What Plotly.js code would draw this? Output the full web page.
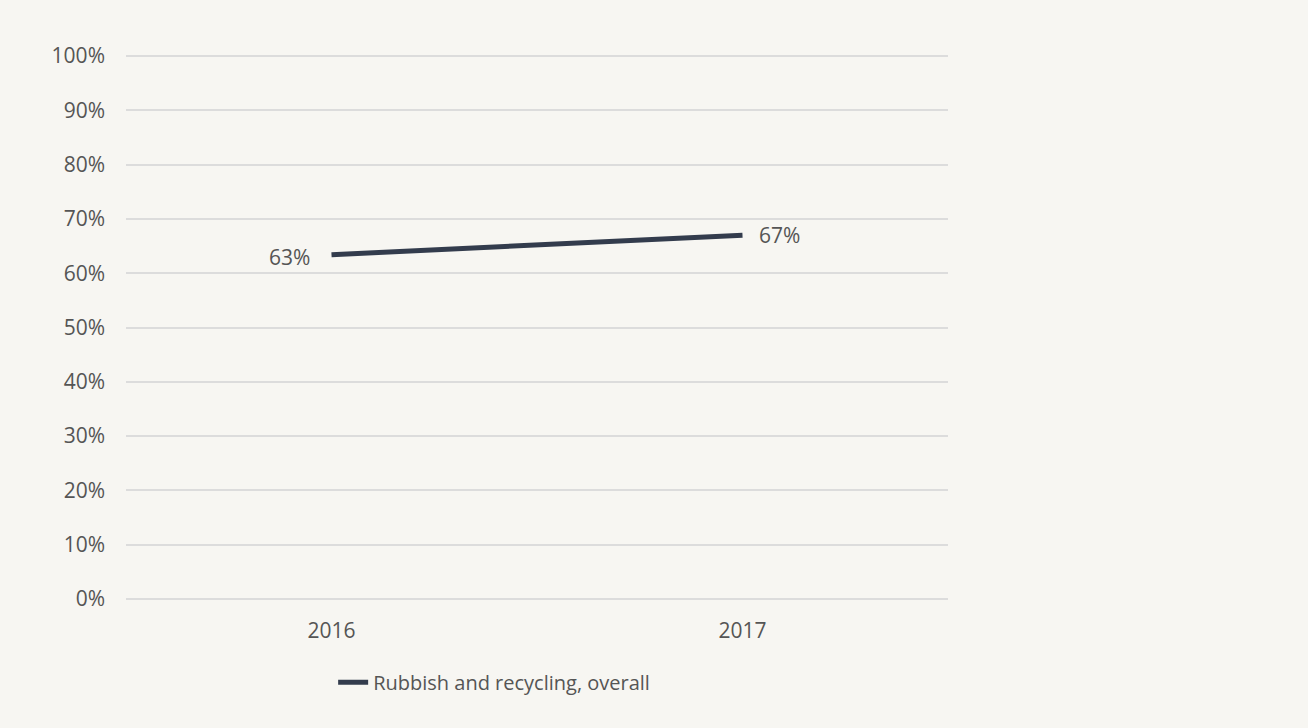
<!DOCTYPE html>
<html><head><meta charset="utf-8">
<script src="https://cdn.plot.ly/plotly-3.0.1.min.js"></script>
<style>html,body{margin:0;padding:0;background:#f7f6f2;}#chart{width:1308px;height:728px;}</style>
</head><body><div id="chart"></div>
<script>
const years = ['2016', '2017'];
const overall = [63.4, 67.0];
const labels = ['63%', '67%'];
const seriesName = 'Rubbish and recycling, overall';
const yTicks = [0,10,20,30,40,50,60,70,80,90,100];
const yTickText = yTicks.map(v => v + '%');

const font = '"Open Sans", sans-serif';
const trace = {
  x: years, y: overall, name: seriesName, type: 'scatter', mode: 'lines',
  line: {color: '#333c4d', width: 5},
  cliponaxis: false
};
const annotations = years.map((yr, i) => ({
  x: i, y: overall[i], xref: 'x', yref: 'y', text: labels[i], showarrow: false,
  xanchor: i === 0 ? 'right' : 'left', yanchor: 'middle',
  xshift: i === 0 ? -20 : 14, yshift: i === 0 ? -2 : 0,
  font: {family: font, size: 21, color: '#555555'}
}));
const layout = {
  width: 1308, height: 728,
  paper_bgcolor: '#f7f6f2', plot_bgcolor: '#f7f6f2',
  margin: {l: 126, r: 360, t: 53, b: 126},
  font: {family: font, size: 21, color: '#555555'},
  showlegend: true,
  annotations: annotations,
  legend: {orientation: 'h', x: 0.252, xanchor: 'left', y: -0.146, yanchor: 'middle',
    font: {family: font, size: 20, color: '#555555'}, bgcolor: 'rgba(0,0,0,0)'},
  xaxis: {type: 'category', range: [-0.5, 1.5], showgrid: false, zeroline: false, showline: false,
    ticks: '', ticklabelstandoff: 14, tickfont: {size: 21, color: '#555555'}},
  yaxis: {range: [-0.55, 100.55], tickvals: yTicks, ticktext: yTickText, showgrid: true,
    gridcolor: '#dcdcdc', gridwidth: 1.5, zeroline: false, showline: false, ticks: '',
    ticklabelstandoff: 20, tickfont: {size: 21, color: '#555555'}}
};
Plotly.newPlot('chart', [trace], layout, {displayModeBar: false});
</script></body></html>
